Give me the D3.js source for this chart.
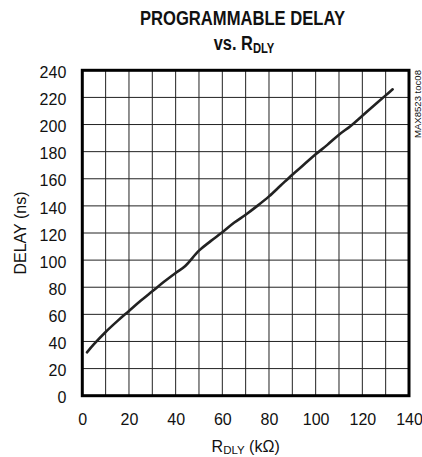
<!DOCTYPE html>
<html><head><meta charset="utf-8">
<script src="https://cdn.jsdelivr.net/npm/d3@7"></script>
<style>
body{margin:0;background:#fff;}
text{font-family:"Liberation Sans Narrow","Arial Narrow",sans-serif;fill:#111;}
</style></head><body>
<svg id="c" width="422" height="457"></svg>
<script>
const rValues = [2,5,10,15,20,25,30,35,40,44,50,55,60,65,70,75,80,85,90,95,100,105,110,115,120,125,130,133];
const delayValues = [32,38,47,55,62.5,70,77,84,90.5,95.5,107,114,120.5,127.5,133.5,140,147,155,163,170.5,178,185,192.5,199,206.5,214,221.5,226];
const xTicks = [0,20,40,60,80,100,120,140];
const yTicks = [0,20,40,60,80,100,120,140,160,180,200,220,240];
const xGrid = d3.range(0,141,10);

const svg = d3.select("#c");
const L=82.3,R=409,T=70.3,B=395.7;
const x = d3.scaleLinear().domain([0,140]).range([L,R]);
const y = d3.scaleLinear().domain([0,240]).range([B,T]);

const g = svg.append("g");
g.selectAll("line.v").data(xGrid).enter().append("line")
 .attr("x1",d=>x(d)).attr("x2",d=>x(d)).attr("y1",T).attr("y2",B)
 .attr("stroke","#222").attr("stroke-width",1);
g.selectAll("line.h").data(yTicks).enter().append("line")
 .attr("y1",d=>y(d)).attr("y2",d=>y(d)).attr("x1",L).attr("x2",R)
 .attr("stroke","#222").attr("stroke-width",1);

const line = d3.line().x((d,i)=>x(rValues[i])).y(d=>y(d)).curve(d3.curveCatmullRom.alpha(0.5));
svg.append("path").datum(delayValues).attr("d",line).attr("fill","none")
 .attr("stroke","#222").attr("stroke-width",2.6).attr("stroke-linecap","round");

svg.append("rect").attr("x",L).attr("y",T).attr("width",R-L).attr("height",B-T)
 .attr("fill","none").attr("stroke","#000").attr("stroke-width",3);

const yAxis = svg.append("g").attr("transform",`translate(${L-5},0)`)
 .call(d3.axisLeft(y).tickValues(yTicks).tickSize(0).tickPadding(11));
const xAxis = svg.append("g").attr("transform",`translate(0,${B+18})`)
 .call(d3.axisBottom(x).tickValues(xTicks).tickSize(0).tickPadding(0));
[yAxis,xAxis].forEach(a=>{a.select(".domain").remove();
 a.selectAll("text").style("font-family",'"Liberation Sans Narrow","Arial Narrow",sans-serif').style("font-size","16px").attr("fill","#111");});
yAxis.selectAll("text").attr("dy","0.45em").attr("x",-11);
xAxis.selectAll("text").attr("dy","0.71em");

// titles
svg.append("text").attr("x",242.5).attr("y",25).attr("text-anchor","middle")
 .attr("textLength",205).attr("lengthAdjust","spacingAndGlyphs")
 .style("font-size","20.5px").style("font-weight","bold").text("PROGRAMMABLE DELAY");
const t2 = svg.append("text").attr("transform","translate(244,50) scale(0.8,1)").attr("text-anchor","middle")
 .style("font-size","20.5px").style("font-weight","bold");
t2.append("tspan").text("vs. R");
t2.append("tspan").attr("dy",2.5).style("font-size","14px").text("DLY");

const xl = svg.append("text").attr("x",(L+R)/2).attr("y",452).attr("text-anchor","middle").style("font-size","16px");
xl.append("tspan").text("R");
xl.append("tspan").attr("dy",2).style("font-size","11.5px").text("DLY");
xl.append("tspan").attr("dy",-2).text(" (k\u03A9)");

svg.append("text").attr("transform",`translate(26,${(T+B)/2}) rotate(-90)`).attr("text-anchor","middle")
 .style("font-size","16px").text("DELAY (ns)");

svg.append("text").attr("transform",`translate(420.5,70) rotate(-90)`).attr("text-anchor","end")
 .attr("textLength",68).attr("lengthAdjust","spacingAndGlyphs")
 .style("font-size","9.5px").text("MAX8523 toc08");
</script>
</body></html>
